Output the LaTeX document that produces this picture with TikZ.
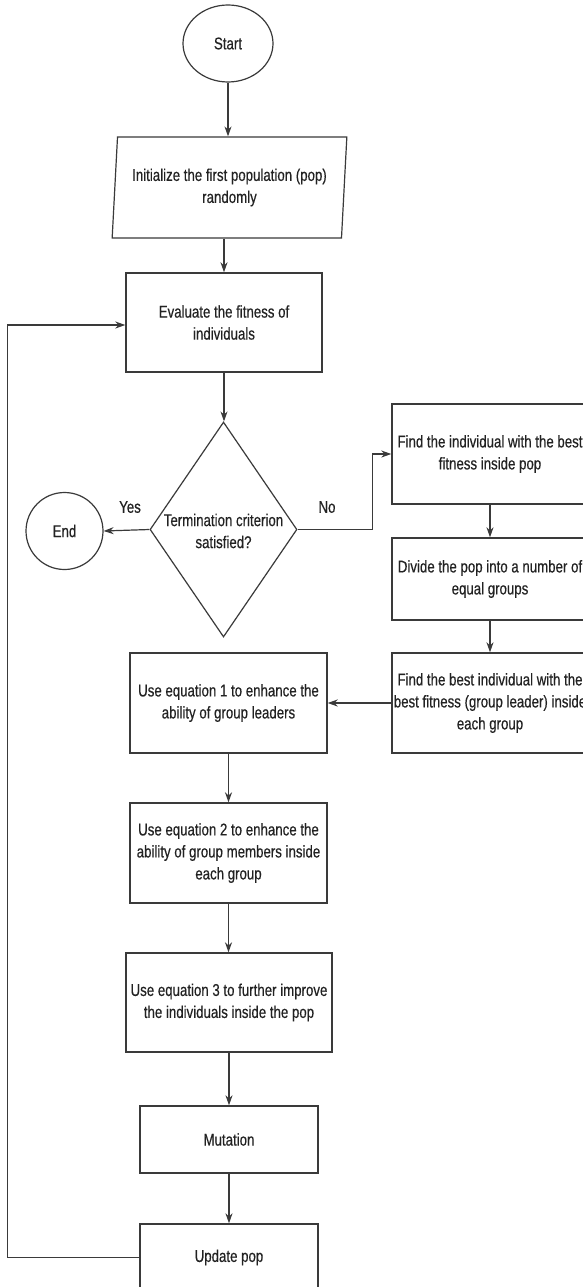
\documentclass[tikz,border=0pt]{standalone}
\usepackage{fontspec}
\setmainfont{Liberation Sans}[FakeStretch=0.78,FakeBold=0.4]
\usetikzlibrary{shapes.geometric,arrows.meta}
\definecolor{linec}{HTML}{3A3A3A}
\definecolor{textc}{HTML}{222222}
\begin{document}
\begin{tikzpicture}[x=1pt,y=-1pt,
  every node/.style={font=\fontsize{17}{22}\selectfont, text=textc, align=center},
  box/.style={draw=linec, line width=1.4pt, rectangle, inner sep=0pt},
  conn/.style={draw=linec, line width=1.2pt, -{Stealth[length=10pt,width=7pt]}},
  plain/.style={draw=linec, line width=1.2pt}
]
\useasboundingbox[fill=white] (0,0) rectangle (583,1287);

\node[draw=linec, line width=1.2pt, ellipse, minimum width=90pt, minimum height=77pt, inner sep=0pt] (start) at (228,43.5) {Start};
\node[draw=linec, line width=1.2pt, trapezium, trapezium left angle=83, trapezium right angle=97, trapezium stretches=true, minimum width=235pt, minimum height=101pt, inner sep=0pt] (init) at (229.5,187.5) {Initialize the first population (pop)\\randomly};
\node[box, minimum width=196pt, minimum height=99pt] (eval) at (224,322.5) {Evaluate the fitness of\\individuals};
\node[draw=linec, line width=1.2pt, diamond, minimum width=147pt, minimum height=215pt, inner sep=0pt] (dec) at (223.5,529.5) {};
\node (dectext) at (223.5,531) {Termination criterion\\satisfied?};
\node[draw=linec, line width=1.2pt, circle, minimum size=77pt, inner sep=0pt] (end) at (64.5,531) {End};
\node (yes) at (130,507) {Yes};
\node (no) at (327,507) {No};

\node[box, minimum width=196pt, minimum height=100pt] (boxA) at (490,454) {Find the individual with the best\\fitness inside pop};
\node[box, minimum width=196pt, minimum height=82pt] (boxB) at (490,579) {Divide the pop into a number of\\equal groups};
\node[box, minimum width=196pt, minimum height=100pt] (boxC) at (490,703) {Find the best individual with the\\best fitness (group leader) inside\\each group};

\node[box, minimum width=197pt, minimum height=100pt] (eq1) at (228.5,703) {Use equation 1 to enhance the\\ability of group leaders};
\node[box, minimum width=197pt, minimum height=100pt] (eq2) at (228.5,853) {Use equation 2 to enhance the\\ability of group members inside\\each group};
\node[box, minimum width=206pt, minimum height=99pt] (eq3) at (229,1002.5) {Use equation 3 to further improve\\the individuals inside the pop};
\node[box, minimum width=178pt, minimum height=67pt] (mut) at (229,1139.5) {Mutation};
\node[box, minimum width=178pt, minimum height=67pt] (upd) at (229,1257.5) {Update pop};

\draw[conn] (start.south) -- (start.south |- init.north);
\draw[conn] (eval.north |- init.south) -- (eval.north);
\draw[conn] (eval.south) -- (eval.south |- dec.north);
\draw[conn] (dec.west) -- (end.east);
\draw[conn] (dec.east) -- ++(75,0) |- (boxA.west);
\draw[conn] (boxA.south) -- (boxB.north);
\draw[conn] (boxB.south) -- (boxC.north);
\draw[conn] (boxC.west) -- (eq1.east);
\draw[conn] (eq1.south) -- (eq1.south |- eq2.north);
\draw[conn] (eq2.south) -- (eq2.south |- eq3.north);
\draw[conn] (mut.north |- eq3.south) -- (mut.north);
\draw[conn] (mut.south) -- (upd.north);
\draw[conn] (upd.west) -- ++(-132,0) |- ([yshift=-2.5pt]eval.west);
\end{tikzpicture}
\end{document}
